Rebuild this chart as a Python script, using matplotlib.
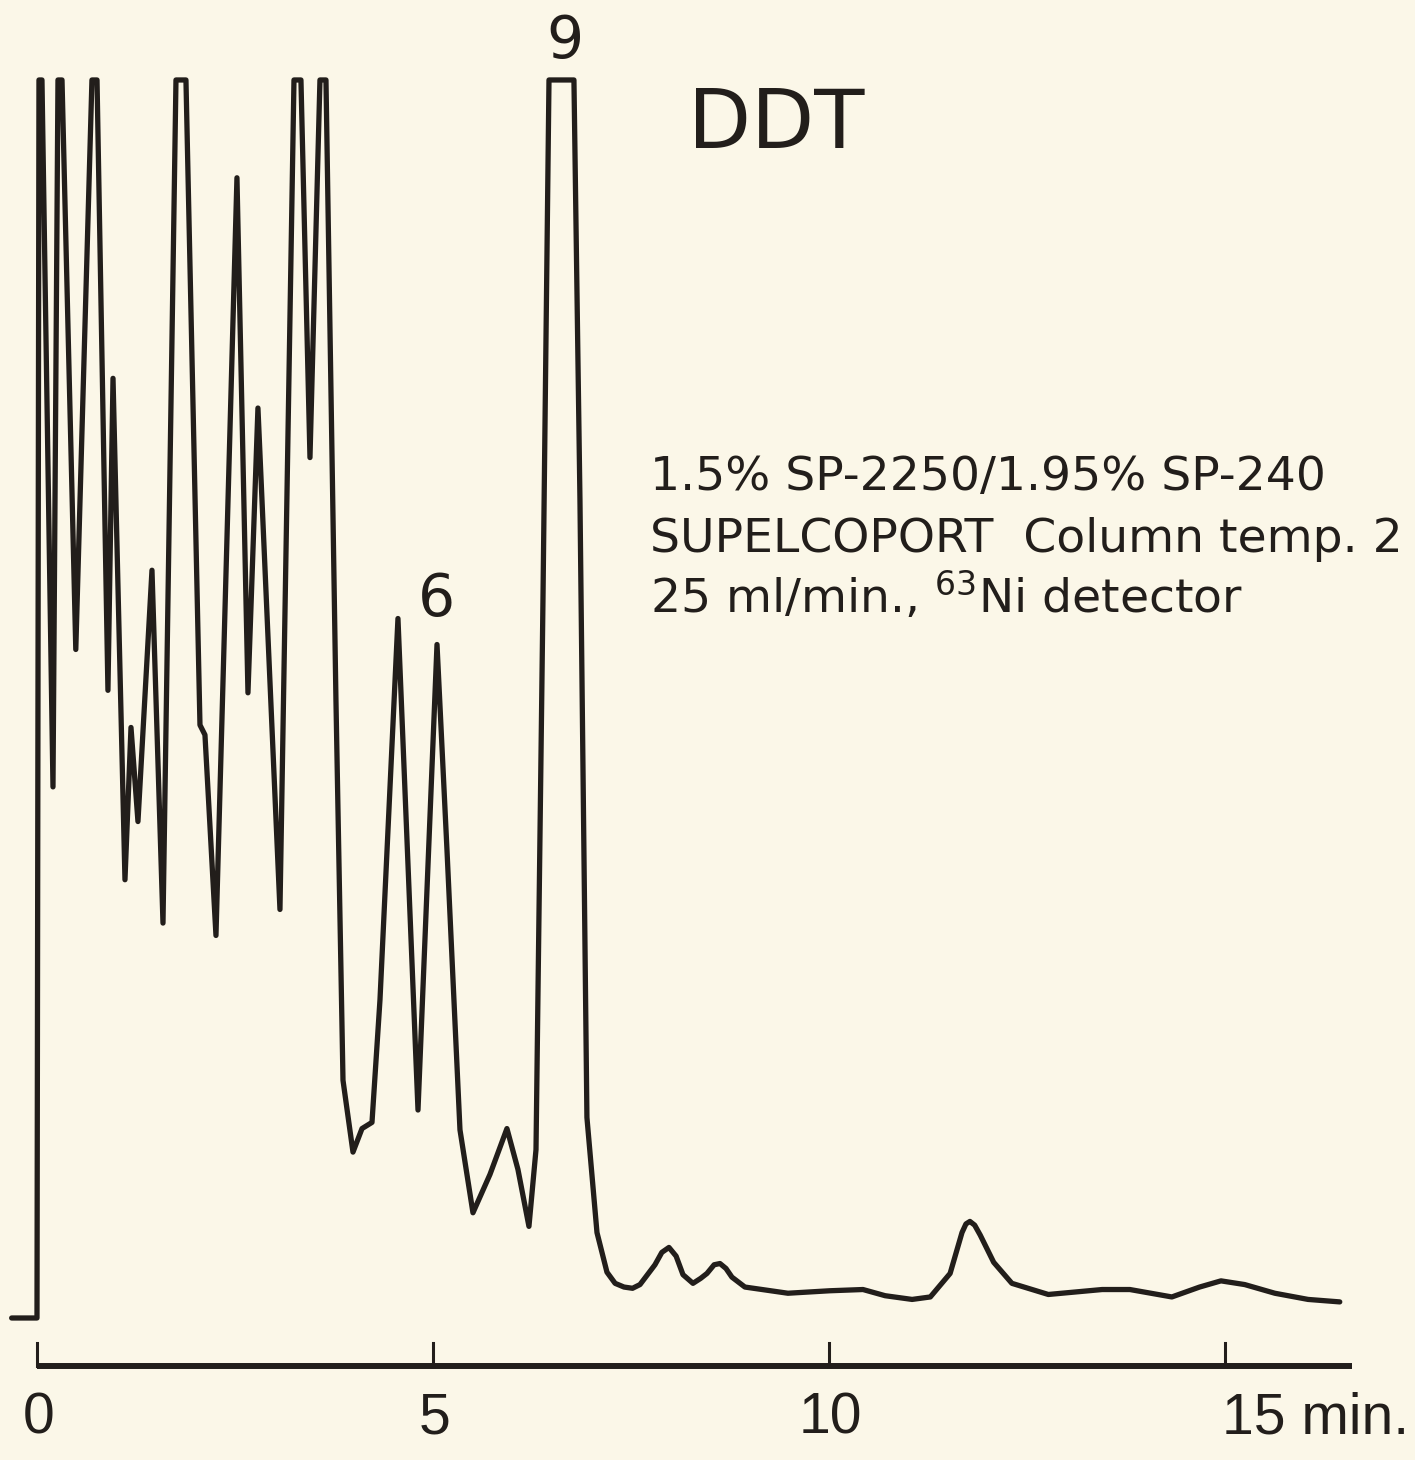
import matplotlib
matplotlib.use("Agg")
import matplotlib.pyplot as plt

# pen trace:
# retention time (min) vs. detector response (% of full scale, 100 = pen at the top stop)
time_min = [
    -0.32, 0.00, 0.025, 0.063, 0.202, 0.265, 0.316, 0.49, 0.694, 0.758,
    0.896, 0.960, 1.111, 1.187, 1.275, 1.452, 1.591, 1.755, 1.881, 2.058,
    2.121, 2.260, 2.525, 2.664, 2.790, 3.068, 3.245, 3.333, 3.447, 3.573,
    3.649, 3.775, 3.864, 3.990, 4.104, 4.230, 4.331, 4.558, 4.811, 5.051,
    5.177, 5.341, 5.505, 5.720, 5.934, 6.073, 6.212, 6.301, 6.389, 6.465,
    6.780, 6.856, 6.944, 7.071, 7.197, 7.30, 7.412, 7.52, 7.614, 7.803,
    7.89, 7.980, 8.07, 8.157, 8.283, 8.380, 8.460, 8.55, 8.624, 8.70,
    8.775, 8.939, 9.482, 10.01, 10.43, 10.71, 11.05, 11.28, 11.53, 11.68,
    11.73, 11.78, 11.84, 11.91, 12.08, 12.31, 12.77, 13.45, 13.80, 14.33,
    14.68, 14.95, 15.25, 15.63, 16.05, 16.45,
]
response_pct = [
    0.0, 0.0, 100, 100, 42.9, 100, 100, 54.0, 100, 100,
    50.7, 75.9, 35.4, 47.7, 40.1, 60.4, 31.9, 100, 100, 47.9,
    47.1, 30.9, 92.1, 50.5, 73.5, 33.0, 100, 100, 69.5, 100,
    100, 49.9, 19.2, 13.4, 15.3, 15.8, 25.7, 56.5, 16.8, 54.4,
    37.8, 15.2, 8.5, 11.6, 15.3, 12.0, 7.4, 13.6, 58.0, 100,
    100, 66.1, 16.2, 6.9, 3.7, 2.8, 2.5, 2.4, 2.7, 4.3,
    5.3, 5.7, 5.0, 3.5, 2.8, 3.2, 3.6, 4.3, 4.4, 4.0,
    3.3, 2.5, 2.0, 2.2, 2.3, 1.8, 1.5, 1.7, 3.6, 6.9,
    7.6, 7.8, 7.5, 6.7, 4.5, 2.8, 1.9, 2.3, 2.3, 1.7,
    2.5, 3.0, 2.7, 2.0, 1.5, 1.3,
]

peak_labels = ["6", "9"]
peak_label_times = [5.05, 6.67]

tick_times = [0, 5, 10, 15]
tick_labels = ["0", "5", "10", "15 min."]

method_lines = [
    "1.5% SP-2250/1.95% SP-240",
    "SUPELCOPORT  Column temp. 2",
    r"25 ml/min., $\mathregular{^{63}}$Ni detector",
]

BG = "#fbf7e8"
INK = "#221e1b"

fig = plt.figure(figsize=(14.15, 14.60), dpi=100, facecolor=BG)
ax = fig.add_axes([0, 0, 1, 1])
ax.set_facecolor(BG)
ax.set_xlim(-0.467, 17.40)
ax.set_ylim(-11.47, 106.46)
ax.axis("off")

# chromatogram
ax.plot(time_min, response_pct, color=INK, lw=3.8,
        solid_joinstyle="round", solid_capstyle="round")

# time axis drawn under the trace, ticks pointing up
axis_y = -3.88
ax.plot([0, 16.6], [axis_y, axis_y], color=INK, lw=4.3, solid_capstyle="butt")
for t in tick_times:
    ax.plot([t, t], [axis_y, -2.0], color=INK, lw=2.2)
for t, lab in zip(tick_times, tick_labels):
    ha = "left" if "min" in lab else "center"
    xt = t - 0.04 if ha == "left" else t + 0.02
    ax.text(xt, -8.1, lab, ha=ha, va="center", fontsize=41,
            family="Liberation Sans", color=INK)

# peak numbers
ax.text(peak_label_times[0], 58.0, peak_labels[0], ha="center", va="center",
        fontsize=42, color=INK)
ax.text(peak_label_times[1], 103.1, peak_labels[1], ha="center", va="center",
        fontsize=42, color=INK)

# title and column conditions
fig.text(688 / 1415, 1 - 148 / 1460, "DDT", ha="left", va="baseline",
         fontsize=59, color=INK)
for i, line in enumerate(method_lines):
    fig.text(650 / 1415, 1 - (490 + 61.5 * i) / 1460, line, ha="left",
             va="baseline", fontsize=34, color=INK)

fig.savefig("out.png", dpi=100, facecolor=BG)
